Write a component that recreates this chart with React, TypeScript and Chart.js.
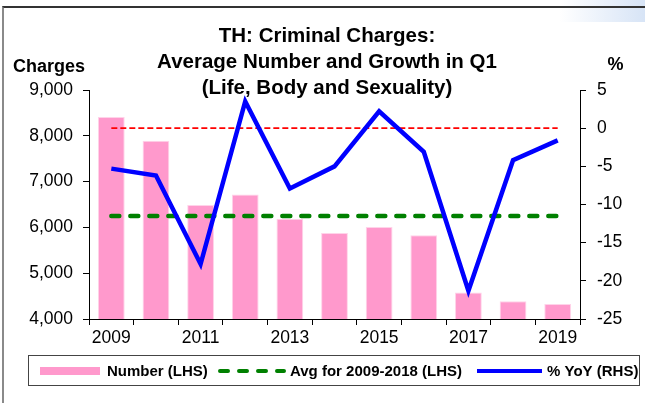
import React, { useEffect, useRef } from 'react';
import { Chart, registerables } from 'chart.js';

Chart.register(...registerables);

const FONT = '"Liberation Sans", Arial, Helvetica, sans-serif';

const YEARS = ['2009', '2010', '2011', '2012', '2013', '2014', '2015', '2016', '2017', '2018', '2019'];
const NUMBER_LHS = [8410, 7890, 6490, 6720, 6190, 5880, 6010, 5830, 4580, 4390, 4330];
const AVG_2009_2018_LHS = [6250, 6250, 6250, 6250, 6250, 6250, 6250, 6250, 6250, 6250, 6250];
const ZERO_RHS = [0, 0, 0, 0, 0, 0, 0, 0, 0, 0, 0];
const YOY_RHS = [-5.3, -6.2, -17.8, 3.5, -7.9, -5.0, 2.2, -3.1, -21.3, -4.2, -1.6];

const LEFT_MIN = 4000;
const LEFT_MAX = 9000;
const LEFT_STEP = 1000;
const RIGHT_MIN = -25;
const RIGHT_MAX = 5;
const RIGHT_STEP = 5;

const TITLE_LINES = ['TH: Criminal Charges:', 'Average Number and Growth in Q1', '(Life, Body and Sexuality)'];
const LEFT_AXIS_TITLE = 'Charges';
const RIGHT_AXIS_TITLE = '%';
const LEGEND_LABELS = ['Number (LHS)', 'Avg for 2009-2018 (LHS)', '% YoY (RHS)'];

const PINK = '#FF99CC';
const GREEN = '#008000';
const BLUE = '#0000FF';
const RED = '#FF0000';

const overlayPlugin = {
  id: 'overlay',
  afterDraw(chart: any) {
    const ctx = chart.ctx as CanvasRenderingContext2D;
    ctx.save();
    ctx.fillStyle = '#000';
    ctx.textBaseline = 'alphabetic';

    // Title
    ctx.font = `bold 20.5px ${FONT}`;
    ctx.textAlign = 'center';
    TITLE_LINES.forEach((t, i) => ctx.fillText(t, 327, 42 + i * 25.8));

    // Axis titles
    ctx.font = `bold 18px ${FONT}`;
    ctx.textAlign = 'left';
    ctx.fillText(LEFT_AXIS_TITLE, 13, 71.5);
    ctx.textAlign = 'center';
    ctx.fillText(RIGHT_AXIS_TITLE, 615.5, 70);

    // Legend box
    ctx.strokeStyle = '#444';
    ctx.lineWidth = 1;
    ctx.strokeRect(28.5, 355.5, 611, 30);

    const cy = 371;
    // pink swatch
    ctx.fillStyle = PINK;
    ctx.fillRect(40, cy - 4, 60, 8);
    // green dashed
    ctx.strokeStyle = GREEN;
    ctx.lineWidth = 4;
    ctx.lineCap = 'round';
    ctx.setLineDash([8, 11]);
    ctx.beginPath();
    ctx.moveTo(220, cy);
    ctx.lineTo(284, cy);
    ctx.stroke();
    ctx.setLineDash([]);
    // blue line
    ctx.strokeStyle = BLUE;
    ctx.lineCap = 'butt';
    ctx.beginPath();
    ctx.moveTo(477, cy);
    ctx.lineTo(542, cy);
    ctx.stroke();

    ctx.fillStyle = '#000';
    ctx.font = `bold 15px ${FONT}`;
    ctx.textAlign = 'left';
    ctx.textBaseline = 'middle';
    ctx.fillText(LEGEND_LABELS[0], 107, cy + 1);
    ctx.fillText(LEGEND_LABELS[1], 290, cy + 1);
    ctx.fillText(LEGEND_LABELS[2], 547, cy + 1);
    ctx.restore();
  },
};

export default function App() {
  const canvasRef = useRef<HTMLCanvasElement | null>(null);

  useEffect(() => {
    if (!canvasRef.current) return;
    const tickFont = { family: FONT, size: 17.5 };
    const chart = new Chart(canvasRef.current, {
      type: 'bar',
      data: {
        labels: YEARS,
        datasets: [
          {
            type: 'line',
            label: LEGEND_LABELS[2],
            data: YOY_RHS,
            yAxisID: 'yR',
            borderColor: BLUE,
            borderWidth: 4.5,
            pointRadius: 0,
            tension: 0,
            borderJoinStyle: 'miter',
            fill: false,
            order: 0,
          } as any,
          {
            type: 'line',
            label: 'zero',
            data: ZERO_RHS,
            yAxisID: 'yR',
            borderColor: RED,
            borderWidth: 1.8,
            borderDash: [6, 3],
            pointRadius: 0,
            fill: false,
            order: 1,
          } as any,
          {
            type: 'line',
            label: LEGEND_LABELS[1],
            data: AVG_2009_2018_LHS,
            yAxisID: 'yL',
            borderColor: GREEN,
            borderWidth: 4.5,
            borderDash: [8, 11],
            borderCapStyle: 'round',
            pointRadius: 0,
            fill: false,
            order: 2,
          } as any,
          {
            type: 'bar',
            label: LEGEND_LABELS[0],
            data: NUMBER_LHS,
            yAxisID: 'yL',
            backgroundColor: PINK,
            borderColor: '#FFD3E9',
            borderWidth: 1,
            barPercentage: 0.6,
            categoryPercentage: 1,
            order: 3,
          } as any,
        ],
      },
      options: {
        responsive: false,
        animation: false,
        devicePixelRatio: 1,
        layout: { padding: { left: 0, right: 0, top: 90, bottom: 0 } },
        plugins: {
          legend: { display: false },
          title: { display: false },
          tooltip: { enabled: false },
        },
        scales: {
          x: {
            type: 'category',
            offset: true,
            grid: {
              offset: true,
              drawOnChartArea: false,
              drawTicks: true,
              tickLength: 6,
              color: '#000',
            },
            border: { display: true, color: '#000', width: 1 },
            ticks: {
              autoSkip: false,
              maxRotation: 0,
              minRotation: 0,
              color: '#000',
              font: tickFont,
              padding: 3,
              callback: (_v: any, i: number) => (i % 2 === 0 ? YEARS[i] : ''),
            },
            afterFit: (s: any) => {
              s.height = 84;
            },
          },
          yL: {
            type: 'linear',
            position: 'left',
            min: LEFT_MIN,
            max: LEFT_MAX,
            grid: {
              drawOnChartArea: false,
              drawTicks: true,
              tickLength: 6,
              color: '#000',
            },
            border: { display: true, color: '#000', width: 1 },
            ticks: {
              stepSize: LEFT_STEP,
              color: '#000',
              font: tickFont,
              padding: 10,
              callback: (v: any) => Number(v).toLocaleString('en-US'),
            },
            afterFit: (s: any) => {
              s.width = 89;
            },
          },
          yR: {
            type: 'linear',
            position: 'right',
            min: RIGHT_MIN,
            max: RIGHT_MAX,
            grid: {
              drawOnChartArea: false,
              drawTicks: true,
              tickLength: 6,
              color: '#000',
            },
            border: { display: true, color: '#000', width: 1 },
            ticks: {
              stepSize: RIGHT_STEP,
              color: '#000',
              font: tickFont,
              padding: 11,
            },
            afterFit: (s: any) => {
              s.width = 65;
            },
          },
        },
      },
      plugins: [overlayPlugin],
    });
    return () => chart.destroy();
  }, []);

  return (
    <div
      style={{
        position: 'fixed',
        left: 0,
        top: 0,
        width: 645,
        height: 403,
        background: '#fff',
        overflow: 'hidden',
      }}
    >
      <div
        style={{
          position: 'absolute',
          left: 560,
          top: 0,
          width: 85,
          height: 22,
          background: 'linear-gradient(to right, rgba(215,228,246,0), rgba(215,228,246,1))',
        }}
      />
      <div
        style={{
          position: 'absolute',
          left: 2,
          top: 6,
          width: 643,
          height: 397,
          borderTop: '2px solid #333',
          borderLeft: '2px solid #8a8a8a',
          boxSizing: 'border-box',
        }}
      />
      <canvas
        ref={canvasRef}
        width={645}
        height={403}
        style={{ position: 'absolute', left: 0, top: 0, display: 'block' }}
      />
    </div>
  );
}
